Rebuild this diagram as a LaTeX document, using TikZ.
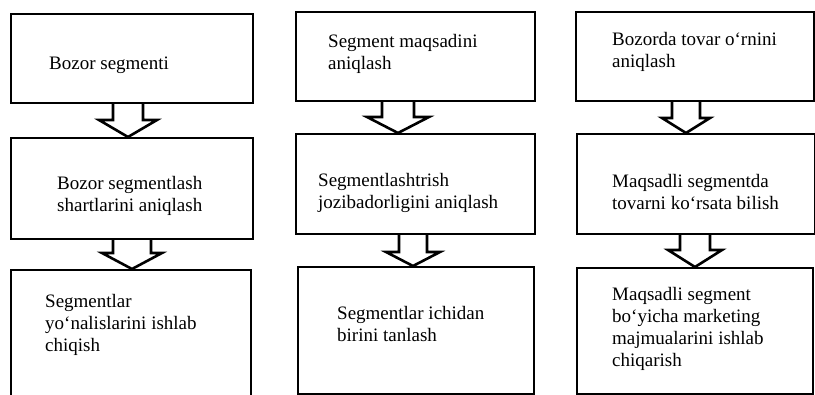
\documentclass[tikz,border=0pt]{standalone}
\usepackage{fontspec}
\setmainfont{Liberation Serif}
\usetikzlibrary{calc}
\tikzset{
  box/.style={draw=black, line width=2.2pt, inner sep=0pt, anchor=north west, fill=none},
  txt/.style={anchor=west, align=left, inner sep=0pt, font=\fontsize{19}{22}\selectfont},
  blockarrow/.style={draw=black, fill=white, line width=2.6pt, line join=miter}
}
\newcommand\blockarr[6]{%
  \draw[blockarrow] let \p1=(#1.south), \p2=(#2.north) in
    ({#3-#5},\y1) -- ({#3-#5},-#4) -- ({#3-#6},-#4) -- (#3,\y2) --
    ({#3+#6},-#4) -- ({#3+#5},-#4) -- ({#3+#5},\y1);}
\begin{document}
\begin{tikzpicture}[x=1pt,y=1pt]
\useasboundingbox[fill=white] (0,0) rectangle (815,-395);
% column 1
\node[box, minimum width=242pt, minimum height=89pt] (c1b1) at (10,-13) {};
\node[box, minimum width=242pt, minimum height=101pt] (c1b2) at (10,-137) {};
\node[box, minimum width=240pt, minimum height=135pt] (c1b3) at (10,-269) {};
% column 2
\node[box, minimum width=239pt, minimum height=89pt] (c2b1) at (295,-11) {};
\node[box, minimum width=239pt, minimum height=100pt] (c2b2) at (295,-133) {};
\node[box, minimum width=236pt, minimum height=127pt] (c2b3) at (297,-266) {};
% column 3
\node[box, minimum width=238pt, minimum height=89pt] (c3b1) at (575,-11) {};
\node[box, minimum width=238pt, minimum height=100pt] (c3b2) at (576,-133) {};
\node[box, minimum width=236pt, minimum height=126pt] (c3b3) at (576,-267) {};
% arrows
\blockarr{c1b1}{c1b2}{128}{120}{15}{29}
\blockarr{c1b2}{c1b3}{132}{253}{19}{30}
\blockarr{c2b1}{c2b2}{398}{117}{16}{31}
\blockarr{c2b2}{c2b3}{413}{252}{14}{27}
\blockarr{c3b1}{c3b2}{686}{118}{14}{24}
\blockarr{c3b2}{c3b3}{695}{250}{15}{27}
% texts
\node[txt] (t11) at (49,-65) {Bozor segmenti};
\node[txt] (t12) at (57,-196) {Bozor segmentlash\\shartlarini aniqlash};
\node[txt] (t13) at (45,-325) {Segmentlar\\yo`nalislarini ishlab\\chiqish};
\node[txt] (t21) at (328,-54) {Segment maqsadini\\aniqlash};
\node[txt] (t22) at (318,-193) {Segmentlashtrish\\jozibadorligini aniqlash};
\node[txt] (t23) at (337,-324) {Segmentlar ichidan\\birini tanlash};
\node[txt] (t31) at (612,-52) {Bozorda tovar o`rnini\\aniqlash};
\node[txt] (t32) at (612,-192) {Maqsadli segmentda\\tovarni ko`rsata bilish};
\node[txt] (t33) at (612,-329) {Maqsadli segment\\bo`yicha marketing\\majmualarini ishlab\\chiqarish};
\end{tikzpicture}
\end{document}
